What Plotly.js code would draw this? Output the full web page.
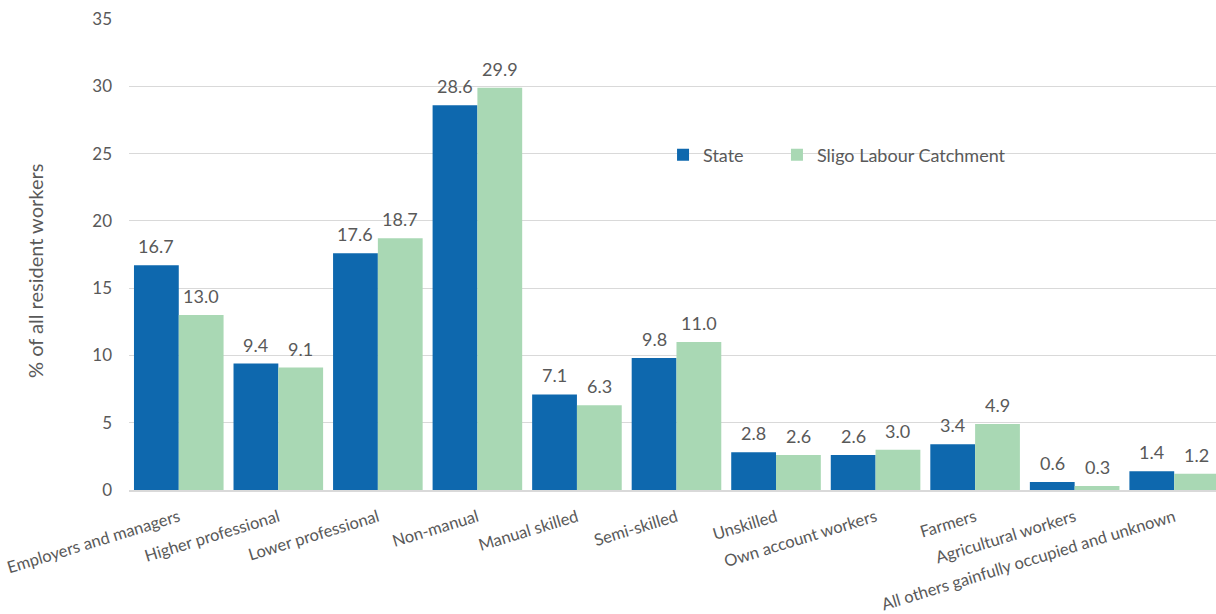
<!DOCTYPE html>
<html><head><meta charset="utf-8">
<script src="https://cdn.plot.ly/plotly-3.0.1.min.js"></script>
<style>body{margin:0;padding:0;background:#fff}#chart{width:1216px;height:614px}</style>
</head><body><div id="chart"></div>
<script>
const categories = ["Employers and managers","Higher professional","Lower professional","Non-manual","Manual skilled","Semi-skilled","Unskilled","Own account workers","Farmers","Agricultural workers","All others gainfully occupied and unknown"];
const stateValues = [16.7, 9.4, 17.6, 28.6, 7.1, 9.8, 2.8, 2.6, 3.4, 0.6, 1.4];
const sligoValues = [13.0, 9.1, 18.7, 29.9, 6.3, 11.0, 2.6, 3.0, 4.9, 0.3, 1.2];
const seriesNames = ["State", "Sligo Labour Catchment"];
const yTicks = [0, 5, 10, 15, 20, 25, 30, 35];

const FONT = "Lato, 'Open Sans', sans-serif";
const GREY = "#595959";
const colors = ["#0E68AE", "#A9D8B4"];
const legendIds = ["legend", "legend2"];

const traces = [stateValues, sligoValues].map((vals, k) => ({
  type: "bar",
  name: seriesNames[k],
  x: categories,
  y: vals,
  legend: legendIds[k],
  marker: {color: colors[k], line: {width: 0}},
  hoverinfo: "x+y"
}));

const off = 0.225;
const annotations = [];
[stateValues, sligoValues].forEach((vals, k) => {
  vals.forEach((v, i) => {
    annotations.push({
      x: i + (k === 0 ? -off : off), y: v, xref: "x", yref: "y",
      text: v.toFixed(1), showarrow: false, yanchor: "bottom", yshift: 6,
      font: {family: FONT, size: 18, color: GREY}
    });
  });
});
annotations.push({
  xref: "paper", yref: "paper", x: -0.0865, y: 0.465,
  text: "% of all resident workers", textangle: -90, showarrow: false,
  xanchor: "center", yanchor: "middle",
  font: {family: FONT, size: 20, color: GREY}
});

const legendBase = {
  orientation: "h", y: 0.711, xanchor: "left", yanchor: "middle",
  font: {family: FONT, size: 18, color: GREY},
  bgcolor: "rgba(0,0,0,0)", itemwidth: 30
};

const layout = {
  width: 1216, height: 614,
  margin: {l: 129, r: 0, t: 19, b: 124},
  paper_bgcolor: "#fff", plot_bgcolor: "#fff",
  barmode: "group", bargap: 0.1, bargroupgap: 0,
  font: {family: FONT, size: 16, color: GREY},
  xaxis: {
    type: "category", range: [-0.5, 10.42],
    tickangle: -17, ticks: "", showgrid: false, ticklabelstandoff: 10,
    showline: true, linecolor: "#D9D9D9", linewidth: 1.5,
    tickfont: {family: FONT, size: 16.5, color: GREY},
    fixedrange: true
  },
  yaxis: {
    range: [0, 35], tickvals: yTicks, ticks: "",
    showgrid: true, gridcolor: "#D9D9D9", gridwidth: 1,
    zeroline: false, showline: false, ticklabelstandoff: 16,
    tickfont: {family: FONT, size: 17, color: GREY},
    fixedrange: true
  },
  legend: Object.assign({}, legendBase, {x: 0.4913}),
  legend2: Object.assign({}, legendBase, {x: 0.5961}),
  showlegend: true,
  annotations: annotations
};

Plotly.newPlot("chart", traces, layout, {displayModeBar: false, staticPlot: true});
</script></body></html>
